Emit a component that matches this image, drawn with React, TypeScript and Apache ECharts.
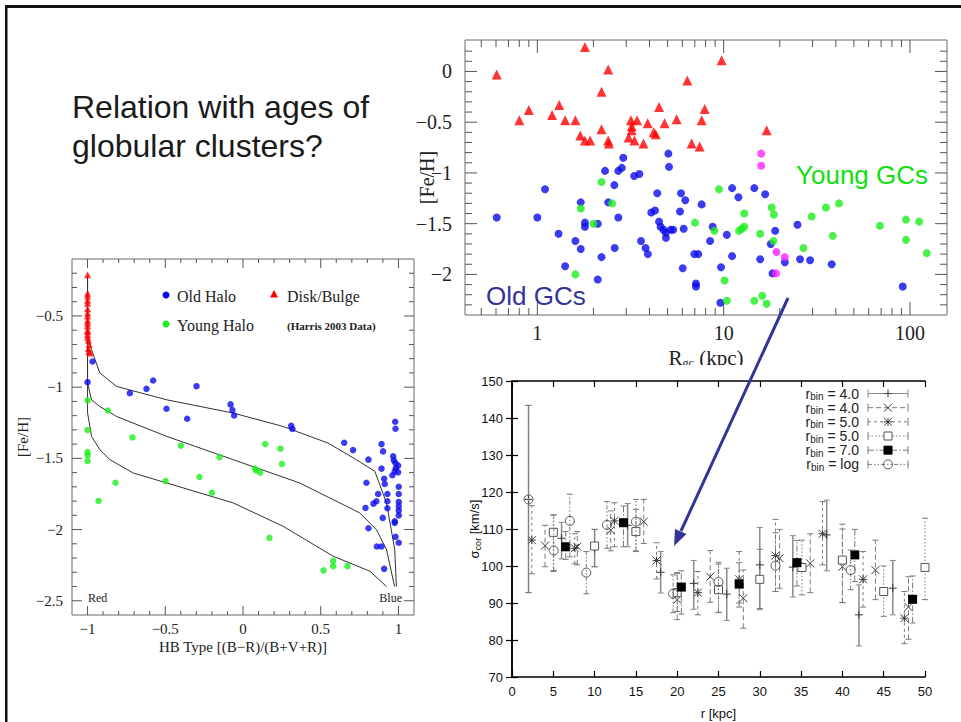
import React, { useEffect, useRef } from "react";
import * as echarts from "echarts";

// ---------- Chart 1 : [Fe/H] vs R_gc (kpc), log axis ----------
const rgcDiskBulge: number[][] = [
  [0.605, -0.03], [1.8, 0.24], [2.4, 0.02], [2.21, -0.2], [0.8, -0.48], [0.9, -0.38],
  [1.2, -0.43], [1.31, -0.33], [1.41, -0.48], [1.6, -0.48], [1.7, -0.63], [1.8, -0.68],
  [1.92, -0.68], [2.21, -0.57], [2.4, -0.68], [2.42, -0.71], [3.18, -0.48], [3.43, -0.48],
  [3.21, -0.54], [3.21, -0.58], [3.09, -0.65], [3.32, -0.68], [3.71, -0.71], [3.91, -0.51],
  [4.21, -0.6], [4.32, -0.62], [4.5, -0.35], [4.82, -0.51], [5.59, -0.47], [6.38, -0.09],
  [6.73, -0.71], [7.43, -0.74], [7.62, -0.48], [7.91, -0.37], [9.75, 0.11], [17.0, -0.58],
];
const rgcOldHalo: number[][] = [
  [0.605, -1.44], [1.0, -1.44], [1.1, -1.16], [1.3, -1.6], [1.41, -1.92], [1.6, -1.67],
  [1.71, -1.29], [1.71, -1.75], [1.8, -1.49], [1.8, -1.53], [2.11, -1.5], [2.11, -2.05],
  [2.21, -1.83], [2.31, -0.98], [2.4, -1.29], [2.59, -1.12], [2.72, -1.44], [2.6, -1.74],
  [2.72, -0.98], [2.84, -0.95], [2.89, -0.85], [3.31, -1.03], [3.53, -1.01], [3.6, -1.67],
  [3.81, -1.74], [3.92, -1.8], [4.09, -1.39], [4.28, -1.37], [4.4, -1.2], [4.5, -1.48],
  [4.59, -1.53], [4.75, -1.56], [4.89, -1.59], [4.9, -1.64], [5.05, -0.81], [5.09, -0.94],
  [5.2, -1.56], [5.36, -1.56], [5.9, -1.2], [6.22, -1.27], [5.83, -1.38], [6.1, -1.55],
  [6.03, -1.94], [6.96, -1.8], [7.31, -1.8], [7.1, -2.09], [7.1, -2.12], [7.62, -1.31],
  [8.73, -1.53], [8.45, -1.67], [9.68, -1.93], [9.6, -2.28], [10.4, -1.61], [11.1, -1.15],
  [11.1, -1.82], [12.0, -1.24], [14.6, -1.15], [15.7, -1.85], [16.7, -1.21], [17.9, -1.7],
  [18.3, -1.99], [18.9, -1.57], [21.3, -1.88], [24.9, -1.51], [25.7, -1.85], [29.1, -1.86],
  [38.0, -1.9], [91.4, -2.12],
];
const rgcYoungHalo: number[][] = [
  [2.21, -1.09], [1.71, -1.35], [2.52, -1.3], [2.0, -1.5], [1.6, -2.0], [7.02, -1.49],
  [8.92, -1.57], [9.44, -1.16], [10.1, -2.06], [10.4, -2.26], [12.1, -1.57], [12.5, -1.55],
  [12.9, -1.53], [12.9, -1.4], [15.7, -1.6], [14.6, -2.26], [16.1, -2.21], [17.0, -2.29],
  [18.1, -1.34], [18.6, -1.41], [18.5, -1.67], [26.8, -1.74], [29.7, -1.43], [35.4, -1.34],
  [41.6, -1.3], [38.5, -1.62], [69.0, -1.52], [95.2, -1.46], [95.2, -1.66], [112, -1.48],
  [123, -1.79],
];
const rgcOther: number[][] = [
  [15.9, -0.81], [15.9, -0.93], [19.2, -1.78], [21.3, -1.83], [19.1, -1.99],
];
const rgcTickValues = [0.5, 0.6, 0.7, 0.8, 0.9, 1, 2, 3, 4, 5, 6, 7, 8, 9, 10, 20, 30, 40, 50, 60, 70, 80, 90, 100];
const rgcTickLabels = [1, 10, 100];

// ---------- Chart 2 : [Fe/H] vs HB type ----------
const hbDiskBulge: number[][] = [
  [-1, -0.21], [-1, -0.34], [-1, -0.36], [-1, -0.39], [-1, -0.41], [-1, -0.45], [-1, -0.48],
  [-1, -0.5], [-1, -0.53], [-1, -0.55], [-1, -0.57], [-1, -0.6], [-1, -0.61], [-1, -0.63],
  [-1, -0.65], [-0.995, -0.67], [-0.99, -0.7], [-0.995, -0.73], [-0.99, -0.75], [-0.985, -0.76],
];
const hbOldHalo: number[][] = [
  [-0.968, -0.82], [-1, -0.965], [-0.728, -1.042], [-0.621, -1.012], [-0.578, -0.953],
  [-0.492, -1.152], [-0.359, -1.222], [-0.299, -0.993], [-0.08, -1.121], [-0.068, -1.161],
  [-0.057, -1.199], [0.31, -1.271], [0.318, -1.294], [0.651, -1.39], [0.708, -1.442],
  [0.807, -1.509], [0.794, -1.671], [0.788, -1.848], [0.807, -1.991], [0.839, -1.818],
  [0.858, -1.801], [0.869, -1.75], [0.861, -2.119], [0.891, -2.119], [0.891, -1.4],
  [0.901, -1.451], [0.891, -1.572], [0.908, -1.643], [0.912, -1.68], [0.929, -1.75],
  [0.929, -1.801], [0.929, -1.85], [0.899, -1.918], [0.908, -2.276], [0.979, -1.243],
  [0.981, -1.292], [0.966, -1.486], [0.97, -1.514], [0.981, -1.533], [0.983, -1.568],
  [0.998, -1.551], [0.961, -1.619], [0.976, -1.591], [0.998, -1.598], [1.002, -1.699],
  [1.002, -1.75], [1.002, -1.806], [1.002, -1.836], [1.002, -1.867], [1.002, -1.9],
  [0.976, -1.942], [0.976, -1.953], [0.981, -2.051], [1.002, -2.093],
];
const hbYoungHalo: number[][] = [
  [-1, -1.093], [-1, -1.301], [-1, -1.456], [-1, -1.479], [-1, -1.519], [-0.929, -1.799],
  [-0.869, -1.164], [-0.82, -1.671], [-0.711, -1.353], [-0.498, -1.659], [-0.4, -1.411],
  [-0.28, -1.631], [-0.2, -1.741], [-0.151, -1.491], [0.078, -1.572], [0.085, -1.584],
  [0.11, -1.6], [0.143, -1.4], [0.17, -2.058], [0.241, -1.432], [0.25, -1.54],
  [0.518, -2.287], [0.58, -2.257], [0.58, -2.22], [0.672, -2.257],
];
const hbCurveUpper: number[][] = [
  [-1, -0.22], [-1, -0.64], [-0.974, -0.738], [-0.921, -0.9], [-0.813, -0.995], [-0.49, -1.089],
  [-0.063, -1.182], [0.258, -1.276], [0.548, -1.393], [0.73, -1.51], [0.848, -1.591],
  [0.923, -1.813], [0.976, -2.14], [0.987, -2.4],
];
const hbCurveMiddle: number[][] = [
  [-1, -0.22], [-1, -0.97], [-0.974, -1.089], [-0.921, -1.136], [-0.813, -1.206], [-0.49, -1.346],
  [-0.063, -1.509], [0.365, -1.673], [0.58, -1.79], [0.751, -1.883], [0.858, -2.0],
  [0.923, -2.14], [0.975, -2.4],
];
const hbCurveLower: number[][] = [
  [-1, -0.22], [-1, -1.18], [-0.974, -1.346], [-0.921, -1.439], [-0.856, -1.509], [-0.706, -1.603],
  [-0.49, -1.673], [-0.063, -1.813], [0.258, -1.977], [0.58, -2.187], [0.816, -2.292],
  [0.923, -2.4],
];

// ---------- Chart 3 : sigma_cor vs r  [r, sigma, low, high] ----------
const sigmaBin4a: number[][] = [
  [2, 118, 92.8, 143.4], [6, 107.5, 101.9, 111.8], [10, 104.5, 99.8, 109.9], [14, 111, 105.2, 116.9],
  [18, 98.3, 92.7, 103.9], [22, 95.3, 88.3, 101.5], [26, 92.4, 85.3, 99.4], [30, 100.3, 88.2, 110.4],
  [34, 99.7, 91.6, 108.2], [38.1, 108.4, 98.7, 117.8], [42, 86.8, 78.4, 94.9], [46.1, 94, 86.8, 101.5],
];
const sigmaBin4b: number[][] = [
  [4, 105.5, 99.8, 111], [7.9, 105.2, 100.3, 109.3], [11.95, 109.7, 104.1, 114.9], [15.95, 112, 106.1, 118],
  [20, 90.9, 85.5, 98], [24, 97.1, 90.2, 104.2], [28, 91.3, 83.2, 98.9], [32.4, 102.1, 94, 109.9],
  [36.1, 100.7, 92.8, 108.7], [40, 99.8, 90.1, 110], [44, 98.9, 90.9, 107], [48, 88.9, 80.2, 97.1],
];
const sigmaBin5a: number[][] = [
  [2.4, 107, 97.9, 116.3], [7.6, 104.8, 100.6, 108.7], [12.4, 112.2, 105.2, 117.1], [17.5, 101.5, 96.5, 106.3],
  [22.5, 92.8, 86.8, 98.5], [27.5, 96.4, 90, 103.9], [31.9, 102.8, 93.1, 112.6], [37.6, 108.7, 100.3, 117.4],
  [42.5, 96.4, 88.9, 103.9], [47.5, 85.9, 79, 93.1],
];
const sigmaBin5b: number[][] = [
  [5, 109.1, 98.5, 113.8], [10, 105.4, 99.8, 109.9], [15, 109.3, 103.9, 115.3], [20, 92.8, 87.7, 98.2],
  [25, 93.6, 87.5, 100.5], [30, 96.4, 88.5, 104.5], [35.1, 99.6, 92.2, 107], [40, 101.6, 90.1, 111.3],
  [45, 93.1, 86.4, 100], [50, 99.6, 90.9, 112.9],
];
const sigmaBin7: number[][] = [
  [6.5, 105.2, 101.8, 109.3], [13.5, 111.7, 105.2, 116.2], [20.5, 94.3, 87, 98.7], [27.5, 95.1, 88.9, 100.9],
  [34.5, 100.9, 94.6, 106.9], [41.5, 103, 95.8, 109.9], [48.5, 91, 84.6, 97.3],
];
const sigmaBinLog: number[][] = [
  [2, 118, 92.8, 143.4], [5.05, 104.2, 98.8, 113.8], [7, 112.2, 102.5, 119.4], [9, 98.2, 92.5, 103.9],
  [11.5, 111.1, 104.8, 117.4], [15, 112, 104.1, 118], [19.5, 92.5, 87.4, 97.6], [25, 95.7, 87.4, 101],
  [31.9, 100.1, 93.1, 109], [41, 98.9, 93.6, 104.3],
];
const sigmaLegend = ["4.0", "4.0", "5.0", "5.0", "7.0", "log"];

// ---------- layout / style ----------
const RGC_X = [0.409, 158];
const RGC_Y = [-2.4, 0.31];
const HB_X = [-1.1, 1.1];
const HB_Y = [-2.6, -0.1];
const SERIF = "Liberation Serif";
const SANS = "Liberation Sans";
const BLUE = "#0a0aeb";
const GREEN = "#1eee1e";
const RED = "#ff0000";
const MAGENTA = "#ff22ff";
const NAVY = "#333399";

const minus = (v: number) => (v < 0 ? "\u2212" + Math.abs(v) : String(v));

function steps(a: number, b: number, step: number) {
  const out: number[] = [];
  for (let i = Math.round(a / step); i <= Math.round(b / step); i++) out.push(+(i * step).toFixed(6));
  return out;
}

function tickSeries(
  axisIdx: number,
  xr: number[],
  yr: number[],
  xt: { v: number; len: number }[],
  yt: { v: number; len: number }[],
  color: string
) {
  const data = [
    ...xt.map((t) => [t.v, yr[0], 0, t.len]),
    ...yt.map((t) => [xr[0], t.v, 1, t.len]),
  ];
  return {
    type: "custom",
    xAxisIndex: axisIdx,
    yAxisIndex: axisIdx,
    silent: true,
    z: 3,
    data,
    renderItem: (_p: any, api: any) => {
      const kind = api.value(2);
      const len = api.value(3);
      const st = { stroke: color, lineWidth: 1 };
      if (kind === 0) {
        const v = api.value(0);
        const b = api.coord([v, yr[0]]);
        const t = api.coord([v, yr[1]]);
        return {
          type: "group",
          children: [
            { type: "line", shape: { x1: b[0], y1: b[1], x2: b[0], y2: b[1] - len }, style: st },
            { type: "line", shape: { x1: t[0], y1: t[1], x2: t[0], y2: t[1] + len }, style: st },
          ],
        };
      }
      const v = api.value(1);
      const l = api.coord([xr[0], v]);
      const r = api.coord([xr[1], v]);
      return {
        type: "group",
        children: [
          { type: "line", shape: { x1: l[0], y1: l[1], x2: l[0] + len, y2: l[1] }, style: st },
          { type: "line", shape: { x1: r[0], y1: r[1], x2: r[0] - len, y2: r[1] }, style: st },
        ],
      };
    },
  };
}

function markerShapes(m: string, x: number, y: number): any[] {
  const s = 4;
  const st = { stroke: "#3a3a3a", lineWidth: 1, fill: "none" };
  const plus = [
    { type: "line", shape: { x1: x - s, y1: y, x2: x + s, y2: y }, style: st },
    { type: "line", shape: { x1: x, y1: y - s, x2: x, y2: y + s }, style: st },
  ];
  const cross = [
    { type: "line", shape: { x1: x - s, y1: y - s, x2: x + s, y2: y + s }, style: st },
    { type: "line", shape: { x1: x - s, y1: y + s, x2: x + s, y2: y - s }, style: st },
  ];
  if (m === "plus") return plus;
  if (m === "cross") return cross;
  if (m === "star") return [...plus, ...cross];
  if (m === "square")
    return [{ type: "rect", shape: { x: x - 4, y: y - 4, width: 8, height: 8 }, style: { stroke: "#555", lineWidth: 1, fill: "#fff" } }];
  if (m === "filled")
    return [{ type: "rect", shape: { x: x - 4.5, y: y - 4.5, width: 9, height: 9 }, style: { fill: "#000" } }];
  return [{ type: "circle", shape: { cx: x, cy: y, r: 4.5 }, style: { stroke: "#555", lineWidth: 1, fill: "none" } }];
}

const errStyles = [
  { marker: "plus", dash: null as any, color: "#8a8a8a", width: 1.5 },
  { marker: "cross", dash: [5, 3], color: "#7a7a7a", width: 1 },
  { marker: "star", dash: [3, 3], color: "#7a7a7a", width: 1 },
  { marker: "square", dash: [1.5, 2], color: "#7a7a7a", width: 1 },
  { marker: "filled", dash: [6, 2, 1.5, 2], color: "#7a7a7a", width: 1 },
  { marker: "circle", dash: [4, 2, 1.5, 2, 1.5, 2], color: "#7a7a7a", width: 1 },
];

function errSeries(idx: number, data: number[][]) {
  const es = errStyles[idx];
  return {
    type: "custom",
    name: "rbin" + idx,
    xAxisIndex: 2,
    yAxisIndex: 2,
    z: 5 + idx,
    data,
    renderItem: (_p: any, api: any) => {
      const x = api.value(0);
      const c = api.coord([x, api.value(1)]);
      const lo = api.coord([x, api.value(2)]);
      const hi = api.coord([x, api.value(3)]);
      const bs: any = { stroke: es.color, lineWidth: es.width, fill: "none" };
      if (es.dash) bs.lineDash = es.dash;
      const cap = { stroke: es.color, lineWidth: 1 };
      return {
        type: "group",
        children: [
          { type: "line", shape: { x1: c[0], y1: lo[1], x2: c[0], y2: hi[1] }, style: bs },
          { type: "line", shape: { x1: c[0] - 3, y1: lo[1], x2: c[0] + 3, y2: lo[1] }, style: cap },
          { type: "line", shape: { x1: c[0] - 3, y1: hi[1], x2: c[0] + 3, y2: hi[1] }, style: cap },
          ...markerShapes(es.marker, c[0], c[1]),
        ],
      };
    },
  };
}

function legendGraphics() {
  const rows = [393.5, 407.7, 421.8, 436, 450.2, 464.4];
  const out: any[] = [];
  rows.forEach((y, i) => {
    const es = errStyles[i];
    const ls: any = { stroke: es.color, lineWidth: 1 };
    if (es.dash) ls.lineDash = es.dash;
    out.push({
      type: "text",
      x: 859,
      y,
      style: {
        text: `{a|r}{b|bin}{a| = ${sigmaLegend[i]}}`,
        align: "right",
        verticalAlign: "middle",
        rich: {
          a: { fontSize: 14, fontFamily: SANS, fill: "#222", lineHeight: 16 },
          b: { fontSize: 10, fontFamily: SANS, fill: "#222", lineHeight: 7, verticalAlign: "bottom" },
        },
      },
      z: 20,
    });
    out.push({ type: "line", shape: { x1: 868, y1: y, x2: 908, y2: y }, style: ls, z: 20 });
    out.push({ type: "line", shape: { x1: 868, y1: y - 4, x2: 868, y2: y + 4 }, style: { stroke: es.color, lineWidth: 1 }, z: 20 });
    out.push({ type: "line", shape: { x1: 908, y1: y - 4, x2: 908, y2: y + 4 }, style: { stroke: es.color, lineWidth: 1 }, z: 20 });
    markerShapes(es.marker, 888, y).forEach((m) => out.push({ ...m, z: 21 }));
  });
  return out;
}

function buildOption() {
  const rgcXT = rgcTickValues.map((v) => ({ v, len: rgcTickLabels.includes(v) ? 13 : 7 }));
  const rgcYT = steps(-2.3, 0.2, 0.1).map((v) => ({ v, len: Math.abs(v * 2 - Math.round(v * 2)) < 1e-6 ? 12 : 7 }));
  const hbXT = steps(-1, 1, 0.1).map((v) => ({ v, len: Math.abs(v * 2 - Math.round(v * 2)) < 1e-6 ? 9 : 4 }));
  const hbYT = steps(-2.5, -0.2, 0.1).map((v) => ({ v, len: Math.abs(v * 2 - Math.round(v * 2)) < 1e-6 ? 10 : 5 }));

  const serifLabel = (size: number) => ({ fontFamily: SERIF, fontSize: size, color: "#222" });
  const hidden = { show: false };

  return {
    animation: false,
    backgroundColor: "#ffffff",
    grid: [
      { left: 465, top: 40, width: 482, height: 275, show: true, borderColor: "#6a6a6a", borderWidth: 1, backgroundColor: "transparent" },
      { left: 72, top: 259, width: 342, height: 356, show: true, borderColor: "#6a6a6a", borderWidth: 1, backgroundColor: "transparent" },
      { left: 512, top: 381, width: 413, height: 296 },
    ],
    xAxis: [
      {
        gridIndex: 0, type: "log", logBase: 10, min: RGC_X[0], max: RGC_X[1],
        axisLine: hidden, axisTick: hidden, splitLine: hidden,
        axisLabel: {
          ...serifLabel(20), margin: 8, showMinLabel: false, showMaxLabel: false,
          formatter: (v: number) => {
            const r = Math.round(v);
            return rgcTickLabels.includes(r) && Math.abs(v - r) < 1e-6 ? String(r) : "";
          },
        },
        name: "{a|R}{b|gc}{a| (kpc)}", nameLocation: "middle", nameGap: 32, nameMoveOverlap: false,
        nameTextStyle: {
          rich: {
            a: { fontFamily: SERIF, fontSize: 21, color: "#222", lineHeight: 22 },
            b: { fontFamily: SERIF, fontSize: 12, color: "#222", lineHeight: 10, verticalAlign: "bottom" },
          },
        },
      },
      {
        gridIndex: 1, type: "value", min: HB_X[0], max: HB_X[1],
        axisLine: hidden, axisTick: hidden, splitLine: hidden,
        axisLabel: { ...serifLabel(15), margin: 6, showMinLabel: false, showMaxLabel: false, formatter: minus },
        name: "HB Type [(B\u2212R)/(B+V+R)]", nameLocation: "middle", nameGap: 24, nameMoveOverlap: false,
        nameTextStyle: { fontFamily: SERIF, fontSize: 15, color: "#222" },
      },
      {
        gridIndex: 2, type: "value", min: 0, max: 50, interval: 5,
        axisLine: { lineStyle: { color: "#000", width: 1.5 } },
        axisTick: { inside: true, length: 6, lineStyle: { color: "#000", width: 1.2 } },
        splitLine: hidden,
        axisLabel: { fontFamily: SANS, fontSize: 13, color: "#111", margin: 8 },
        name: "r [kpc]", nameLocation: "middle", nameGap: 30, nameMoveOverlap: false,
        nameTextStyle: { fontFamily: SANS, fontSize: 13, color: "#111" },
      },
      {
        gridIndex: 2, type: "value", min: 0, max: 50, interval: 5, position: "top",
        axisLine: { lineStyle: { color: "#000", width: 1.5 } },
        axisTick: { inside: true, length: 6, lineStyle: { color: "#000", width: 1.2 } },
        splitLine: hidden, axisLabel: hidden,
      },
    ],
    yAxis: [
      {
        gridIndex: 0, type: "value", min: RGC_Y[0], max: RGC_Y[1],
        axisLine: hidden, axisTick: hidden, splitLine: hidden,
        axisLabel: { ...serifLabel(20), margin: 13, showMinLabel: false, showMaxLabel: false, formatter: minus },
        name: "[Fe/H]", nameLocation: "middle", nameGap: 28, nameRotate: 90, nameMoveOverlap: false,
        nameTextStyle: { fontFamily: SERIF, fontSize: 20, color: "#222" },
      },
      {
        gridIndex: 1, type: "value", min: HB_Y[0], max: HB_Y[1],
        axisLine: hidden, axisTick: hidden, splitLine: hidden,
        axisLabel: { ...serifLabel(15), margin: 9, showMinLabel: false, showMaxLabel: false, formatter: minus },
        name: "[Fe/H]", nameLocation: "middle", nameGap: 42, nameRotate: 90, nameMoveOverlap: false,
        nameTextStyle: { fontFamily: SERIF, fontSize: 15, color: "#222" },
      },
      {
        gridIndex: 2, type: "value", min: 70, max: 150, interval: 10,
        axisLine: { lineStyle: { color: "#000", width: 1.5 } },
        axisTick: { inside: true, length: 6, lineStyle: { color: "#000", width: 1.2 } },
        splitLine: hidden,
        axisLabel: { fontFamily: SANS, fontSize: 13, color: "#111", margin: 9 },
        name: "{a|\u03c3}{b|cor}{a| [km/s]}", nameLocation: "middle", nameGap: 30, nameRotate: 90, nameMoveOverlap: false,
        nameTextStyle: {
          rich: {
            a: { fontFamily: SANS, fontSize: 13, color: "#111", lineHeight: 15 },
            b: { fontFamily: SANS, fontSize: 9, color: "#111", lineHeight: 7, verticalAlign: "bottom" },
          },
        },
      },
      {
        gridIndex: 2, type: "value", min: 70, max: 150, interval: 10, position: "right",
        axisLine: { lineStyle: { color: "#000", width: 1.5 } },
        axisTick: { inside: true, length: 6, lineStyle: { color: "#000", width: 1.2 } },
        splitLine: hidden, axisLabel: hidden,
      },
    ],
    series: [
      // chart 1
      { type: "scatter", xAxisIndex: 0, yAxisIndex: 0, data: rgcDiskBulge, symbol: "triangle", symbolSize: 10, itemStyle: { color: RED }, z: 4 },
      { type: "scatter", xAxisIndex: 0, yAxisIndex: 0, data: rgcOldHalo, symbol: "circle", symbolSize: 8, itemStyle: { color: BLUE }, z: 4 },
      { type: "scatter", xAxisIndex: 0, yAxisIndex: 0, data: rgcYoungHalo, symbol: "circle", symbolSize: 8, itemStyle: { color: GREEN }, z: 5 },
      { type: "scatter", xAxisIndex: 0, yAxisIndex: 0, data: rgcOther, symbol: "circle", symbolSize: 8, itemStyle: { color: MAGENTA }, z: 6 },
      tickSeries(0, RGC_X, RGC_Y, rgcXT, rgcYT, "#555"),
      // chart 2
      { type: "line", xAxisIndex: 1, yAxisIndex: 1, data: hbCurveUpper, showSymbol: false, symbol: "none", lineStyle: { color: "#333", width: 1 }, z: 3 },
      { type: "line", xAxisIndex: 1, yAxisIndex: 1, data: hbCurveMiddle, showSymbol: false, symbol: "none", lineStyle: { color: "#333", width: 1 }, z: 3 },
      { type: "line", xAxisIndex: 1, yAxisIndex: 1, data: hbCurveLower, showSymbol: false, symbol: "none", lineStyle: { color: "#333", width: 1 }, z: 3 },
      { type: "scatter", xAxisIndex: 1, yAxisIndex: 1, data: hbDiskBulge, symbol: "triangle", symbolSize: 7, itemStyle: { color: RED }, z: 4 },
      { type: "scatter", xAxisIndex: 1, yAxisIndex: 1, data: hbOldHalo, symbol: "circle", symbolSize: 6.5, itemStyle: { color: BLUE }, z: 4 },
      { type: "scatter", xAxisIndex: 1, yAxisIndex: 1, data: hbYoungHalo, symbol: "circle", symbolSize: 6.5, itemStyle: { color: GREEN }, z: 4 },
      tickSeries(1, HB_X, HB_Y, hbXT, hbYT, "#555"),
      // chart 3
      errSeries(0, sigmaBin4a),
      errSeries(1, sigmaBin4b),
      errSeries(2, sigmaBin5a),
      errSeries(3, sigmaBin5b),
      errSeries(4, sigmaBin7),
      errSeries(5, sigmaBinLog),
    ],
    graphic: [
      // slide frame
      { type: "rect", shape: { x: 5, y: 5, width: 956, height: 3 }, style: { fill: "#111" }, z: 50 },
      { type: "rect", shape: { x: 5, y: 5, width: 2.5, height: 717 }, style: { fill: "#111" }, z: 50 },
      // title
      { type: "text", x: 72, y: 107, style: { text: "Relation with ages of", font: `32px "${SANS}"`, fill: "#1a1a1a", verticalAlign: "middle" } },
      { type: "text", x: 72, y: 146, style: { text: "globular clusters?", font: `32px "${SANS}"`, fill: "#1a1a1a", verticalAlign: "middle" } },
      // annotations chart 1
      { type: "text", x: 796, y: 175, style: { text: "Young GCs", font: `26px "${SANS}"`, fill: "#10e010", verticalAlign: "middle" }, z: 20 },
      { type: "text", x: 486, y: 296, style: { text: "Old GCs", font: `26px "${SANS}"`, fill: NAVY, verticalAlign: "middle" }, z: 20 },
      // chart 2 legend
      { type: "circle", shape: { cx: 166, cy: 295, r: 3.5 }, style: { fill: BLUE }, z: 20 },
      { type: "text", x: 177, y: 296, style: { text: "Old Halo", font: `16px "${SERIF}"`, fill: "#222", verticalAlign: "middle" }, z: 20 },
      { type: "polygon", shape: { points: [[274, 290], [278, 297.5], [270, 297.5]] }, style: { fill: RED }, z: 20 },
      { type: "text", x: 287, y: 296, style: { text: "Disk/Bulge", font: `16px "${SERIF}"`, fill: "#222", verticalAlign: "middle" }, z: 20 },
      { type: "circle", shape: { cx: 166, cy: 324, r: 3.5 }, style: { fill: GREEN }, z: 20 },
      { type: "text", x: 177, y: 325, style: { text: "Young Halo", font: `16px "${SERIF}"`, fill: "#222", verticalAlign: "middle" }, z: 20 },
      { type: "text", x: 287, y: 326, style: { text: "(Harris 2003 Data)", font: `bold 11px "${SERIF}"`, fill: "#222", verticalAlign: "middle" }, z: 20 },
      { type: "text", x: 88, y: 598, style: { text: "Red", font: `12px "${SERIF}"`, fill: "#222", verticalAlign: "middle" }, z: 20 },
      { type: "text", x: 402, y: 598, style: { text: "Blue", font: `12px "${SERIF}"`, fill: "#222", verticalAlign: "middle", align: "right" }, z: 20 },
      // crop of chart 1 image bottom edge
      { type: "rect", shape: { x: 600, y: 365, width: 200, height: 10 }, style: { fill: "#fff" }, z: 60 },
      // chart 3 legend
      ...legendGraphics(),
      // arrow
      { type: "line", shape: { x1: 788, y1: 298, x2: 681, y2: 531 }, style: { stroke: NAVY, lineWidth: 3 }, z: 80 },
      { type: "polygon", shape: { points: [[674, 546], [686.5, 534], [675, 529]] }, style: { fill: NAVY }, z: 80 },
    ],
  };
}

export default function App() {
  const ref = useRef<HTMLDivElement>(null);
  useEffect(() => {
    if (!ref.current) return;
    const chart = echarts.init(ref.current, undefined, { renderer: "svg" });
    chart.setOption(buildOption() as any);
    return () => chart.dispose();
  }, []);
  return (
    <div
      ref={ref}
      style={{ position: "fixed", left: 0, top: 0, width: 961, height: 722, background: "#fff" }}
    />
  );
}
